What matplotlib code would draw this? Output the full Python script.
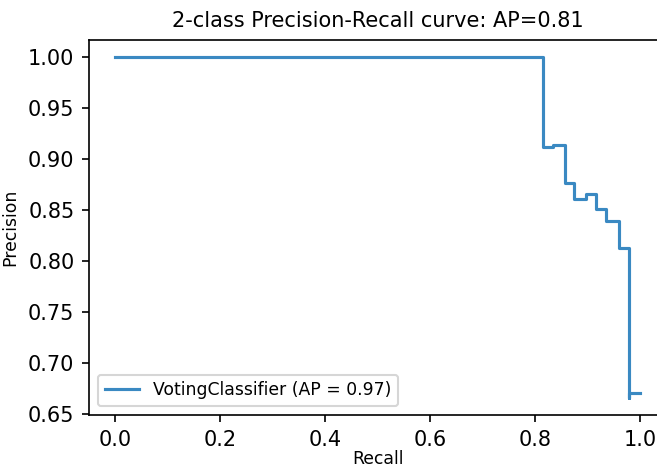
import numpy as np
import matplotlib
matplotlib.use('Agg')
import matplotlib.pyplot as plt

# precision-recall points, ordered by decreasing recall (as sklearn gives them)
recall = [1.0, 0.979, 0.979, 0.959, 0.935, 0.916, 0.897, 0.874, 0.857, 0.833, 0.814, 0.0]
precision = [0.671, 0.666, 0.813, 0.839, 0.851, 0.866, 0.861, 0.877, 0.914, 0.9115, 1.0, 1.0]
ap_title = 0.81
ap_legend = 0.97

fig = plt.figure(figsize=(6.57 / 1.5, 4.66 / 1.5), dpi=150)
ax = fig.add_axes([0.1355, 0.1094, 0.879, 0.805])
ax.plot(recall, precision, drawstyle='steps-post', color='#3a89c2',
        label='VotingClassifier (AP = %.2f)' % ap_legend)
ax.set_xlabel('Recall', fontsize=8.3, labelpad=0)
ax.set_ylabel('Precision', fontsize=8.3)
ax.set_title('2-class Precision-Recall curve: AP=%.2f' % ap_title, fontsize=10)
ax.legend(loc='lower left', fontsize=8.3)
fig.savefig('out.png', dpi=150)
